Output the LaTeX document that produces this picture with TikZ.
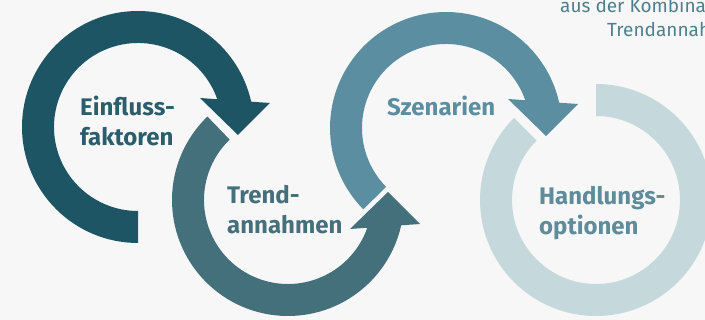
\documentclass[tikz,border=0pt]{standalone}
\usepackage{fontspec}
\setmainfont{Fira Sans}
\definecolor{bgc}{HTML}{F7F7F7}
\definecolor{cA}{HTML}{1D5564}
\definecolor{cB}{HTML}{44707C}
\definecolor{cC}{HTML}{5B8EA1}
\definecolor{cD}{HTML}{C5D9DD}
\definecolor{tA}{HTML}{2B5E6C}
\definecolor{tB}{HTML}{44707C}
\definecolor{tC}{HTML}{5B8EA1}
\definecolor{tD}{HTML}{5E8C9B}
\definecolor{tE}{HTML}{4F7F8E}
\tikzset{
  lbl/.style={anchor=base west, inner sep=0pt, font=\fontsize{24}{30}\selectfont\bfseries},
  note/.style={anchor=base west, inner sep=0pt, text=tE, font=\fontsize{19}{22}\selectfont},
}
\newcommand{\twoline}[2]{\begin{tabular}[t]{@{}l@{}}#1\\#2\end{tabular}}
\begin{document}
\begin{tikzpicture}
\useasboundingbox (0,0) rectangle (705pt,-320pt);
\clip (0,0) rectangle (705pt,-320pt);
\fill[bgc] (0,0) rectangle (705pt,-320pt);

% ring 4 (light, open ring)
\begin{scope}[shift={(596pt,-200pt)}]
\fill[cD] (90:116pt) arc[start angle=90, end angle=-225, radius=116pt]
  -- (-225:84pt) arc[start angle=-225, end angle=90, radius=84pt] -- cycle;
\end{scope}

% ring 3
\begin{scope}[shift={(446pt,-128pt)}]
\fill[cC] (224.5:116pt) arc[start angle=224.5, end angle=12.6, radius=116pt]
  -- (132pt,24pt) -- (100pt,-8pt) -- (62pt,29pt)
  -- (19.3:84pt) arc[start angle=19.3, end angle=224.5, radius=84pt] -- cycle;
\end{scope}

% ring 2
\begin{scope}[shift={(288pt,-200pt)}]
\fill[cB] (134:116pt) arc[start angle=134, end angle=347.4, radius=116pt]
  -- (132pt,-24pt) -- (100pt,8pt) -- (62pt,-29pt)
  -- (340.7:84pt) arc[start angle=340.7, end angle=134, radius=84pt] -- cycle;
\end{scope}

% ring 1
\begin{scope}[shift={(138pt,-127pt)}]
\fill[cA] (270:116pt) arc[start angle=270, end angle=12.6, radius=116pt]
  -- (132pt,24pt) -- (100pt,-8pt) -- (62pt,29pt)
  -- (19.3:84pt) arc[start angle=19.3, end angle=270, radius=84pt] -- cycle;
\end{scope}

\node[lbl, text=tA] (einfluss) at (80pt,-116pt) {\twoline{Einfluss-}{faktoren}};
\node[lbl, text=tB] (trend) at (227pt,-204pt) {\twoline{Trend-}{annahmen}};
\node[lbl, text=tC] (szen) at (387pt,-116pt) {Szenarien};
\node[lbl, text=tD] (handl) at (539pt,-205pt) {\twoline{Handlungs-}{optionen}};

\node[note] (n1) at (560pt,-13pt) {aus der Kombina};
\node[note] (n2) at (607pt,-37pt) {Trendannah};
\end{tikzpicture}
\end{document}
